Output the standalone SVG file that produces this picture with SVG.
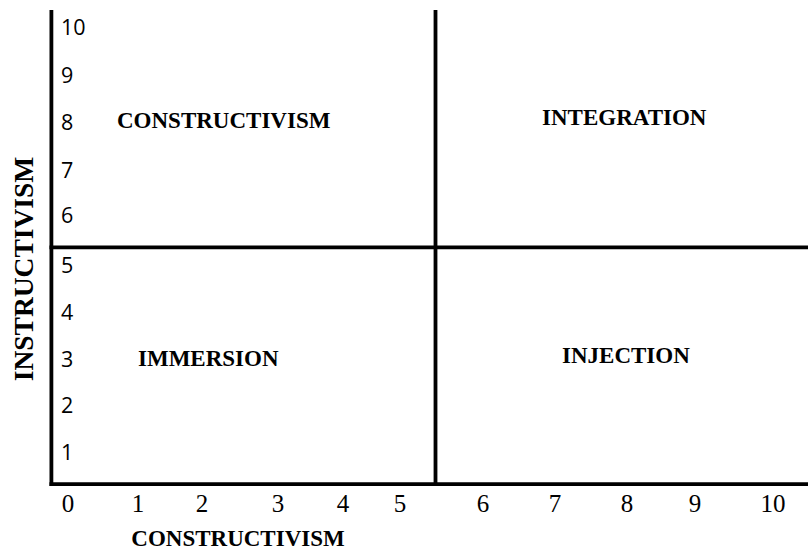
<svg xmlns="http://www.w3.org/2000/svg" width="808" height="550" viewBox="0 0 808 550">
<style>
.ax{stroke:#000;stroke-width:3.8;fill:none}
.yn{font-family:"Open Sans","Noto Sans",sans-serif;font-size:21.5px;fill:#000}
.xn{font-family:"Liberation Serif","Times New Roman",serif;font-size:25px;fill:#000;text-anchor:middle}
.q{font-family:"Liberation Serif","Times New Roman",serif;font-size:23px;font-weight:bold;fill:#000}
</style>
<rect width="808" height="550" fill="#fff"/>
<g id="connectors">
<line class="ax" x1="51.4" y1="10" x2="51.4" y2="486"/>
<line class="ax" x1="49.5" y1="484.2" x2="808" y2="484.2"/>
<line class="ax" x1="49.5" y1="247.3" x2="808" y2="247.3"/>
<line class="ax" x1="435.5" y1="10" x2="435.5" y2="484"/>
</g>
<g id="y-ticks">
<text class="yn" x="61" y="35">10</text>
<text class="yn" x="61" y="83">9</text>
<text class="yn" x="61" y="130">8</text>
<text class="yn" x="61" y="178">7</text>
<text class="yn" x="61" y="223">6</text>
<text class="yn" x="61" y="273">5</text>
<text class="yn" x="61" y="320">4</text>
<text class="yn" x="61" y="367">3</text>
<text class="yn" x="61" y="413">2</text>
<text class="yn" x="61" y="460">1</text>
</g>
<g id="x-ticks">
<text class="xn" x="68" y="512">0</text>
<text class="xn" x="138" y="512">1</text>
<text class="xn" x="202" y="512">2</text>
<text class="xn" x="278" y="512">3</text>
<text class="xn" x="343" y="512">4</text>
<text class="xn" x="400" y="512">5</text>
<text class="xn" x="483" y="512">6</text>
<text class="xn" x="555" y="512">7</text>
<text class="xn" x="627" y="512">8</text>
<text class="xn" x="695" y="512">9</text>
<text class="xn" x="773" y="512">10</text>
</g>
<g id="q-constructivism"><text class="q" x="117" y="128">CONSTRUCTIVISM</text></g>
<g id="q-integration"><text class="q" x="542" y="125">INTEGRATION</text></g>
<g id="q-immersion"><text class="q" x="138" y="366">IMMERSION</text></g>
<g id="q-injection"><text class="q" x="562" y="363">INJECTION</text></g>
<g id="x-title"><text class="q" x="238" y="546" text-anchor="middle">CONSTRUCTIVISM</text></g>
<g id="y-title"><text class="q" style="font-size:27.5px" text-anchor="middle" transform="translate(33,269) rotate(-90)">INSTRUCTIVISM</text></g>
</svg>
